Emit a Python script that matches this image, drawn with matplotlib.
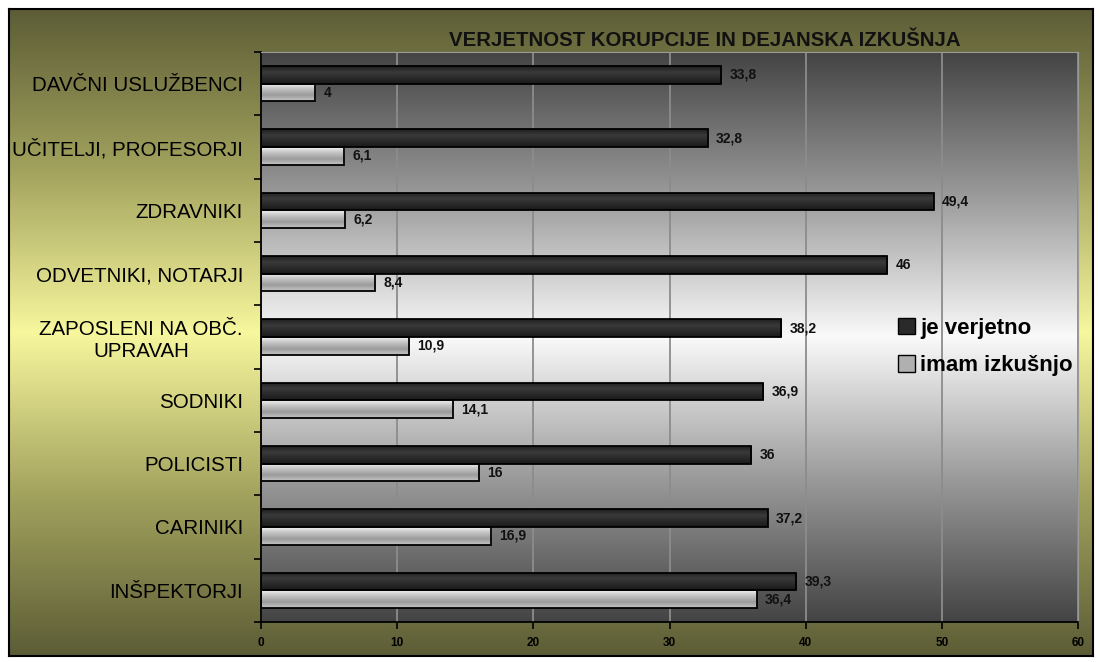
import numpy as np
import matplotlib.pyplot as plt
from matplotlib.colors import LinearSegmentedColormap
from matplotlib.patches import Rectangle

categories = ["DAVČNI USLUŽBENCI", "UČITELJI, PROFESORJI", "ZDRAVNIKI",
              "ODVETNIKI, NOTARJI", "ZAPOSLENI NA OBČ.\nUPRAVAH", "SODNIKI",
              "POLICISTI", "CARINIKI", "INŠPEKTORJI"]
je_verjetno = [33.8, 32.8, 49.4, 46, 38.2, 36.9, 36, 37.2, 39.3]
imam_izkusnjo = [4, 6.1, 6.2, 8.4, 10.9, 14.1, 16, 16.9, 36.4]
xticks = [0, 10, 20, 30, 40, 50, 60]

plt.rcParams['font.family'] = ['Liberation Sans', 'DejaVu Sans']

W, H = 1100, 662
fig = plt.figure(figsize=(W / 100, H / 100), dpi=100)
fig.patch.set_facecolor('white')

# olive / yellow chart background with black frame
bg = fig.add_axes([9 / W, 1 - 656 / H, (1093 - 9) / W, (656 - 9) / H])
bg_cmap = LinearSegmentedColormap.from_list(
    'bg', ['#5c5d36', '#a3a35e', '#f7f79e', '#a3a35e', '#5c5d36'])
bg.imshow(np.linspace(0, 1, 256).reshape(-1, 1), cmap=bg_cmap, aspect='auto',
          extent=[0, 1, 0, 1])
bg.set_xticks([])
bg.set_yticks([])
for s in bg.spines.values():
    s.set_color('black')
    s.set_linewidth(1.5)

left, right, top, bottom = 261, 1078, 52, 622
ax = fig.add_axes([left / W, 1 - bottom / H, (right - left) / W, (bottom - top) / H])

# plot area gradient: dark top and bottom, white centre
pa_cmap = LinearSegmentedColormap.from_list(
    'pa', ['#444444', '#9a9a9a', '#fafafa', '#9a9a9a', '#444444'])
ax.imshow(np.linspace(0, 1, 256).reshape(-1, 1), cmap=pa_cmap, aspect='auto',
          extent=[0, 60, 8.5, -0.5], zorder=0)

y = np.arange(len(categories))
h = 0.28
dark = ax.barh(y - h / 2, je_verjetno, height=h, facecolor='none',
               edgecolor='black', linewidth=1.3, zorder=3, label='je verjetno')
light = ax.barh(y + h / 2, imam_izkusnjo, height=h, facecolor='none',
                edgecolor='black', linewidth=1.3, zorder=3, label='imam izkušnjo')

dark_cmap = LinearSegmentedColormap.from_list('d', ['#1e1e1e', '#3a3a3a', '#2a2a2a', '#1a1a1a'])
light_cmap = LinearSegmentedColormap.from_list('l', ['#f0f0f0', '#c0c0c0', '#9c9c9c', '#c4c4c4'])
for bars, cm in ((dark, dark_cmap), (light, light_cmap)):
    for p in bars:
        x0, y0 = p.get_x(), p.get_y()
        im = ax.imshow(np.linspace(0, 1, 64).reshape(-1, 1), cmap=cm, aspect='auto',
                       extent=[x0, x0 + p.get_width(), y0 + p.get_height(), y0],
                       zorder=2)
        im.set_clip_path(p)

for bars, vals in ((dark, je_verjetno), (light, imam_izkusnjo)):
    for p, v in zip(bars, vals):
        ax.text(v + 0.6, p.get_y() + p.get_height() / 2, f"{v:g}".replace('.', ','),
                va='center', ha='left', fontsize=10, fontweight='bold', color='#111111', zorder=4)

ax.set_xlim(0, 60)
ax.set_ylim(8.5, -0.5)
ax.set_xticks(xticks)
ax.set_xticklabels([str(t) for t in xticks], fontsize=8.5, fontweight='bold')
ax.tick_params(axis='x', length=5, width=1.2, pad=6, color='black')
ax.grid(axis='x', color='#8c8c8c', linewidth=1.3, zorder=1)
ax.set_axisbelow(True)

ax.set_yticks(np.arange(-0.5, 9, 1))
ax.set_yticklabels([])
ax.tick_params(axis='y', which='major', length=5, width=1.2, color='black')
ax.set_yticks(y, minor=True)
ax.set_yticklabels(categories, minor=True, fontsize=14.8, multialignment='center')
ax.tick_params(axis='y', which='minor', length=0, pad=13)

ax.spines['left'].set_color('black')
ax.spines['bottom'].set_color('black')
ax.spines['left'].set_linewidth(1.3)
ax.spines['bottom'].set_linewidth(1.3)
ax.spines['top'].set_color('#9a9a9a')
ax.spines['right'].set_color('#9a9a9a')

h1 = Rectangle((0, 0), 1, 1, facecolor='#2a2a2a', edgecolor='black')
h2 = Rectangle((0, 0), 1, 1, facecolor='#b0b0b0', edgecolor='black')
fig.legend([h1, h2], ['je verjetno', 'imam izkušnjo'], loc='center left',
           bbox_to_anchor=(878 / W, 1 - 347 / H), frameon=False,
           prop={'size': 16, 'weight': 'bold'}, handlelength=0.75, handleheight=0.75,
           handletextpad=0.25, labelspacing=0.75)

fig.text(705 / W, 1 - 40 / H, 'VERJETNOST KORUPCIJE IN DEJANSKA IZKUŠNJA',
         ha='center', va='center', fontsize=14.7, fontweight='bold', color='#111111')

plt.savefig('out.png', dpi=100)
